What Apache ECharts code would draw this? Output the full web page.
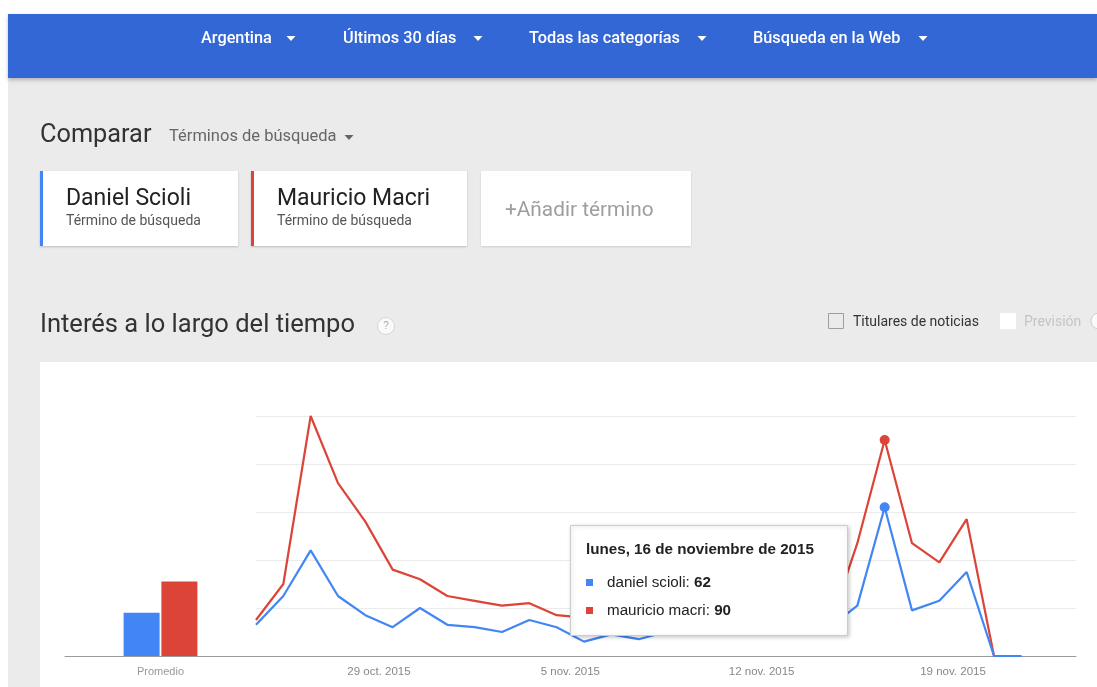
<!DOCTYPE html>
<html>
<head>
<meta charset="utf-8">
<script src="https://cdn.jsdelivr.net/npm/echarts@6/dist/echarts.min.js"></script>
<style>
html,body{margin:0;padding:0;background:#fff;}
#c{width:1097px;height:687px;}
</style>
</head>
<body>
<div id="c"></div>
<script>
// ---- data ----
const dates = ['2015-10-24','2015-10-25','2015-10-26','2015-10-27','2015-10-28','2015-10-29','2015-10-30','2015-10-31',
  '2015-11-01','2015-11-02','2015-11-03','2015-11-04','2015-11-05','2015-11-06','2015-11-07','2015-11-08','2015-11-09',
  '2015-11-10','2015-11-11','2015-11-12','2015-11-13','2015-11-14','2015-11-15','2015-11-16','2015-11-17','2015-11-18',
  '2015-11-19','2015-11-20','2015-11-21'];
const scioli = [13,25,44,25,17,12,20,13,12,10,15,12,6,9,7,10,12,11,13,12,11,12,21,62,19,23,35,0,0];
const macri  = [15,30,100,72,56,36,32,25,23,21,22,17,16,15,15,16,17,15,16,14,15,13,47,90,47,39,57,0,0];
const seriesNames = ['daniel scioli','mauricio macri'];
const averages = [18, 31];
const avgCategory = ['Promedio'];
const tickDates = ['2015-10-29','2015-11-05','2015-11-12','2015-11-19'];
const tickLabels = ['29 oct. 2015','5 nov. 2015','12 nov. 2015','19 nov. 2015'];
const highlightIndex = 23;
const weekdaysEs = ['domingo','lunes','martes','miércoles','jueves','viernes','sábado'];
const monthsEs = ['enero','febrero','marzo','abril','mayo','junio','julio','agosto','septiembre','octubre','noviembre','diciembre'];

const BLUE = '#4285f4', RED = '#db4437';
const tickPos = tickDates.map(d => dates.indexOf(d) - 0.5);

function longDate(iso){
  const [y,m,d] = iso.split('-').map(Number);
  const dt = new Date(Date.UTC(y, m-1, d));
  return weekdaysEs[dt.getUTCDay()] + ', ' + d + ' de ' + monthsEs[m-1] + ' de ' + y;
}

const chart = echarts.init(document.getElementById('c'), null, {renderer:'canvas'});

const F = 'Roboto, "Noto Sans", sans-serif';
const A = '"Liberation Sans", Arial, sans-serif';

function txt(x, y, text, size, color, weight, family, z){
  return {type:'text', x:x, y:y, z: z||1, style:{text:text, fill:color, fontSize:size, fontWeight:weight||'normal',
    fontFamily: family||F, verticalAlign:'middle', align:'left'}};
}
function caret(cx, cy, color, w){
  w = w || 9;
  return {type:'polygon', z:1, shape:{points:[[cx-w/2,cy-2],[cx+w/2,cy-2],[cx,cy+3]]}, style:{fill:color}};
}

const graphics = [
  {type:'rect', z:0, shape:{x:8,y:14,width:1089,height:673}, style:{fill:'#ebebeb'}},
  // header
  {type:'rect', z:1, shape:{x:8,y:14,width:1089,height:64}, style:{fill:'#3367d6', shadowBlur:4, shadowOffsetY:2, shadowColor:'rgba(0,0,0,0.25)'}},
  txt(201, 38.5, 'Argentina', 16.3, '#fff', 500),
  caret(291, 38, '#fff', 9),
  txt(343, 38.5, 'Últimos 30 días', 16.3, '#fff', 500),
  caret(478, 38, '#fff', 9),
  txt(529, 38.5, 'Todas las categorías', 16.3, '#fff', 500),
  caret(702, 38, '#fff', 9),
  txt(753, 38.5, 'Búsqueda en la Web', 16.3, '#fff', 500),
  caret(923, 38, '#fff', 9),
  // compare row
  txt(40, 135.5, 'Comparar', 25.3, '#333', 'normal'),
  txt(169, 137, 'Términos de búsqueda', 16.5, '#666', 'normal'),
  caret(349, 137, '#666', 9),
  // cards
  {type:'rect', z:1, shape:{x:40,y:171,width:198,height:75}, style:{fill:'#fff', shadowBlur:2, shadowOffsetY:1, shadowColor:'rgba(0,0,0,0.2)'}},
  {type:'rect', z:2, shape:{x:40,y:171,width:3,height:75}, style:{fill:BLUE}},
  txt(66, 199, 'Daniel Scioli', 23, '#222', 'normal'),
  txt(66, 221.5, 'Término de búsqueda', 14, '#555', 'normal'),
  {type:'rect', z:1, shape:{x:251,y:171,width:216,height:75}, style:{fill:'#fff', shadowBlur:2, shadowOffsetY:1, shadowColor:'rgba(0,0,0,0.2)'}},
  {type:'rect', z:2, shape:{x:251,y:171,width:3,height:75}, style:{fill:RED}},
  txt(277, 199, 'Mauricio Macri', 23, '#222', 'normal'),
  txt(277, 221.5, 'Término de búsqueda', 14, '#555', 'normal'),
  {type:'rect', z:1, shape:{x:481,y:171,width:210,height:75}, style:{fill:'#fff', shadowBlur:2, shadowOffsetY:1, shadowColor:'rgba(0,0,0,0.12)'}},
  txt(505, 211, '+Añadir término', 20.8, '#9e9e9e', 'normal'),
  // interest title row
  txt(40, 325.5, 'Interés a lo largo del tiempo', 25.5, '#333', 'normal'),
  {type:'circle', z:1, shape:{cx:386,cy:326,r:8.5}, style:{fill:'#fafafa', stroke:'#d6d6d6', lineWidth:1}},
  {type:'text', z:2, x:386, y:326, style:{text:'?', fill:'#aaa', fontSize:10, fontFamily:A, align:'center', verticalAlign:'middle'}},
  {type:'rect', z:1, shape:{x:828.5,y:313.5,width:15,height:15}, style:{fill:'none', stroke:'#9e9e9e', lineWidth:1}},
  txt(853, 322, 'Titulares de noticias', 14, '#333', 'normal'),
  {type:'rect', z:1, shape:{x:1000,y:313,width:16,height:16}, style:{fill:'#fff'}},
  txt(1024, 322, 'Previsión', 14, '#c4c4c4', 'normal'),
  {type:'circle', z:1, shape:{cx:1099,cy:321,r:8}, style:{fill:'#fafafa', stroke:'#cfcfcf', lineWidth:1}},
  // chart panel
  {type:'rect', z:0, shape:{x:40,y:362,width:1057,height:325}, style:{fill:'#fff'}},
  // tooltip
  {type:'rect', z:100, shape:{x:570.5,y:525.5,width:277,height:110}, style:{fill:'#fff', stroke:'#cccccc', lineWidth:1, shadowBlur:4, shadowOffsetX:1, shadowOffsetY:1, shadowColor:'rgba(0,0,0,0.2)'}},
  {type:'text', z:101, x:586, y:550, style:{text: longDate(dates[highlightIndex]), fill:'#222', fontSize:15.2, fontWeight:'bold', fontFamily:A, verticalAlign:'middle'}},
  {type:'rect', z:101, shape:{x:586,y:579,width:7,height:7}, style:{fill:BLUE}},
  {type:'text', z:101, x:607, y:583, style:{text:'{n|' + seriesNames[0] + ': }{v|' + scioli[highlightIndex] + '}', verticalAlign:'middle',
     rich:{n:{fill:'#222', fontSize:15.2, fontFamily:A}, v:{fill:'#222', fontSize:15.2, fontWeight:'bold', fontFamily:A}}}},
  {type:'rect', z:101, shape:{x:586,y:607,width:7,height:7}, style:{fill:RED}},
  {type:'text', z:101, x:607, y:611, style:{text:'{n|' + seriesNames[1] + ': }{v|' + macri[highlightIndex] + '}', verticalAlign:'middle',
     rich:{n:{fill:'#222', fontSize:15.2, fontFamily:A}, v:{fill:'#222', fontSize:15.2, fontWeight:'bold', fontFamily:A}}}}
];

const option = {
  animation: false,
  backgroundColor: '#fff',
  graphic: {elements: graphics},
  grid: [
    {left:65, width:191, top:416, bottom:31, containLabel:false},
    {left:256, width:820, top:416, bottom:31, containLabel:false}
  ],
  xAxis: [
    {gridIndex:0, type:'category', data: avgCategory,
     axisLine:{show:true, lineStyle:{color:'#9a9a9a', width:1}}, axisTick:{show:false},
     axisLabel:{color:'#999', fontSize:11, fontFamily:A, margin:10}},
    {gridIndex:1, type:'value', min:0, max:30,
     axisLine:{show:true, onZero:false, lineStyle:{color:'#9a9a9a', width:1}}, axisTick:{show:false}, splitLine:{show:false},
     axisLabel:{customValues: tickPos, color:'#888', fontSize:11.5, fontFamily:A, margin:10,
       formatter: v => { const k = tickPos.findIndex(p => Math.abs(p - v) < 1e-6); return k >= 0 ? tickLabels[k] : ''; }}}
  ],
  yAxis: [
    {gridIndex:0, type:'value', min:0, max:100, interval:20, show:false, splitLine:{show:false}},
    {gridIndex:1, type:'value', min:0, max:100, interval:20,
     axisLine:{show:false}, axisTick:{show:false}, axisLabel:{show:false},
     splitLine:{show:true, lineStyle:{color:'#ebebeb', width:1}}}
  ],
  series: [
    {type:'bar', name:seriesNames[0], xAxisIndex:0, yAxisIndex:0, data:[averages[0]], barWidth:36, barGap:'5%', itemStyle:{color:BLUE}},
    {type:'bar', name:seriesNames[1], xAxisIndex:0, yAxisIndex:0, data:[averages[1]], barWidth:36, barGap:'5%', itemStyle:{color:RED}},
    {type:'line', name:seriesNames[0], xAxisIndex:1, yAxisIndex:1, data: scioli.map((v,i)=>[i,v]), showSymbol:false,
     lineStyle:{color:BLUE, width:2.2}, itemStyle:{color:BLUE}, z:3,
     markPoint:{symbol:'circle', symbolSize:10, label:{show:false}, itemStyle:{color:BLUE}, data:[{coord:[highlightIndex, scioli[highlightIndex]]}]}},
    {type:'line', name:seriesNames[1], xAxisIndex:1, yAxisIndex:1, data: macri.map((v,i)=>[i,v]), showSymbol:false,
     lineStyle:{color:RED, width:2.2}, itemStyle:{color:RED}, z:2,
     markPoint:{symbol:'circle', symbolSize:10, label:{show:false}, itemStyle:{color:RED}, data:[{coord:[highlightIndex, macri[highlightIndex]]}]}}
  ]
};
chart.setOption(option);
</script>
</body>
</html>
